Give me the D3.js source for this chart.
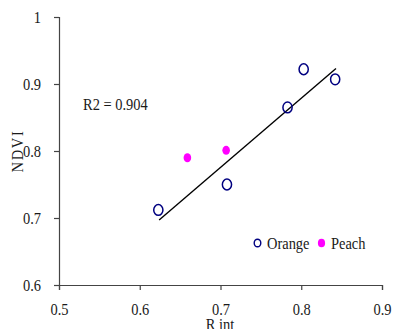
<!DOCTYPE html>
<html>
<head>
<meta charset="utf-8">
<script src="https://cdn.jsdelivr.net/npm/d3@7"></script>
<style>
  html, body { margin: 0; padding: 0; background: #fff; }
</style>
</head>
<body>
<div id="chart"></div>
<script>
// values
const orangeX = [0.623, 0.708, 0.783, 0.803, 0.842];
const orangeY = [0.712, 0.750, 0.865, 0.922, 0.907];
const peachX = [0.659, 0.707];
const peachY = [0.790, 0.801];
const trendX = [0.624, 0.843];
const trendY = [0.697, 0.923];
const xTicks = [0.5, 0.6, 0.7, 0.8, 0.9];
const xTickLabels = ["0.5", "0.6", "0.7", "0.8", "0.9"];
const yTicks = [0.6, 0.7, 0.8, 0.9, 1];
const yTickLabels = ["0.6", "0.7", "0.8", "0.9", "1"];
const seriesNames = ["Orange", "Peach"];
const r2Label = "R2 = 0.904";

const W = 393, H = 329;
const fontSize = 17;
const serif = "'Liberation Serif', 'Times New Roman', 'DejaVu Serif', serif";
const squeeze = "scale(0.85,1)";

const svg = d3.select("#chart").append("svg")
    .attr("width", W)
    .attr("height", H)
    .attr("font-family", serif);

const x = d3.scaleLinear().domain([0.5, 0.9]).range([59, 382]);
const y = d3.scaleLinear().domain([0.6, 1]).range([285, 17]);

// axes
const xAxis = svg.append("g")
    .attr("transform", `translate(0,${y(0.6)})`)
    .call(d3.axisBottom(x).tickValues(xTicks).tickSize(5)
        .tickFormat((d, i) => xTickLabels[i]));
const yAxis = svg.append("g")
    .attr("transform", `translate(${x(0.5)},0)`)
    .call(d3.axisLeft(y).tickValues(yTicks).tickSize(5)
        .tickFormat((d, i) => yTickLabels[i]));

[xAxis, yAxis].forEach(a => {
    a.attr("font-family", serif).attr("font-size", fontSize);
    a.select(".domain").attr("stroke", "#444").attr("stroke-width", 1.2);
    a.selectAll(".tick line").attr("stroke", "#444").attr("stroke-width", 1.2);
    a.selectAll("text")
        .attr("font-size", fontSize)
        .attr("font-family", serif)
        .attr("fill", "#1a1a1a")
        .attr("transform", squeeze);
});
xAxis.selectAll("text").attr("y", 30).attr("dy", 0).attr("x", 0);
yAxis.selectAll("text").attr("x", -18 / 0.85).attr("dy", "0.34em");

// small helper for squeezed text labels
function label(txt, px, py, anchor, rotate) {
    const g = svg.append("g")
        .attr("transform", `translate(${px},${py})` + (rotate ? ` rotate(${rotate})` : ""));
    return g.append("text")
        .attr("transform", squeeze)
        .attr("text-anchor", anchor)
        .attr("font-family", serif)
        .attr("font-size", fontSize)
        .attr("fill", "#1a1a1a")
        .text(txt);
}

// axis titles
label("R int", 220, 330, "middle");
label("NDVI", 23, 151, "middle", -90).attr("letter-spacing", 2);
label("NDVI", 407, 138, "middle", -90).attr("letter-spacing", 2);

// R2 annotation
label(r2Label, 83, 110, "start");

// trend line
svg.append("line")
    .attr("x1", x(trendX[0])).attr("y1", y(trendY[0]))
    .attr("x2", x(trendX[1])).attr("y2", y(trendY[1]))
    .attr("stroke", "#000")
    .attr("stroke-width", 1.4);

// orange - open circles
svg.selectAll("ellipse.orange")
    .data(orangeX.map((v, i) => [v, orangeY[i]]))
    .join("ellipse")
    .attr("class", "orange")
    .attr("cx", d => x(d[0]))
    .attr("cy", d => y(d[1]))
    .attr("rx", 4.6)
    .attr("ry", 5.4)
    .attr("fill", "none")
    .attr("stroke", "#000080")
    .attr("stroke-width", 1.5);

// peach - filled dots
svg.selectAll("ellipse.peach")
    .data(peachX.map((v, i) => [v, peachY[i]]))
    .join("ellipse")
    .attr("class", "peach")
    .attr("cx", d => x(d[0]))
    .attr("cy", d => y(d[1]))
    .attr("rx", 3.8)
    .attr("ry", 4.5)
    .attr("fill", "#ff00ff");

// legend
svg.append("ellipse")
    .attr("cx", 257.5).attr("cy", 243)
    .attr("rx", 3.3).attr("ry", 3.8)
    .attr("fill", "none")
    .attr("stroke", "#000080")
    .attr("stroke-width", 1.4);
label(seriesNames[0], 267, 249, "start");
svg.append("ellipse")
    .attr("cx", 321.5).attr("cy", 243)
    .attr("rx", 3.6).attr("ry", 4.3)
    .attr("fill", "#ff00ff");
label(seriesNames[1], 331, 249, "start");
</script>
</body>
</html>
